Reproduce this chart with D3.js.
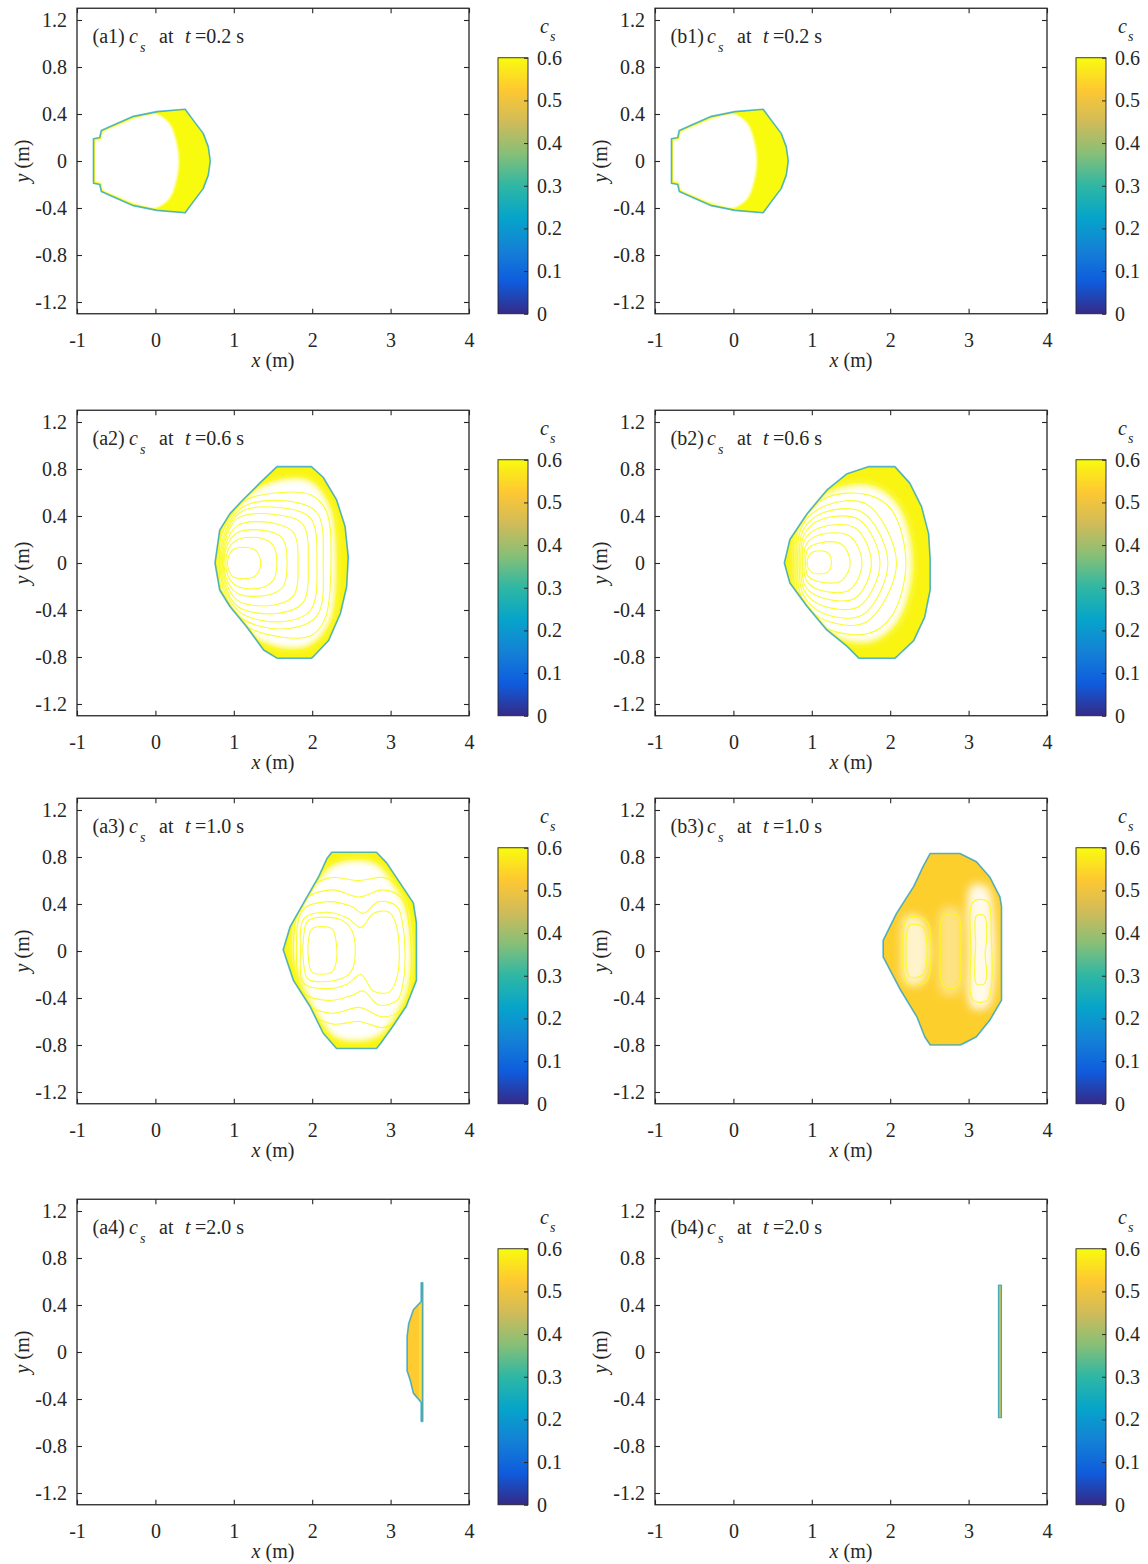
<!DOCTYPE html>
<html>
<head>
<meta charset="utf-8">
<script src="https://cdn.jsdelivr.net/npm/d3@7"></script>
<style>
  body { margin: 0; background: #fff; }
  svg text { font-family: "Liberation Serif", "Times New Roman", serif; fill: #262626; }
</style>
</head>
<body>
<div id="chart"></div>
<script>
// axis ticks and labels
const xTicks = [-1, 0, 1, 2, 3, 4];
const xTickLabels = ["-1", "0", "1", "2", "3", "4"];
const yTicks = [-1.2, -0.8, -0.4, 0, 0.4, 0.8, 1.2];
const yTickLabels = ["-1.2", "-0.8", "-0.4", "0", "0.4", "0.8", "1.2"];
const cbTicks = [0, 0.1, 0.2, 0.3, 0.4, 0.5, 0.6];
const cbTickLabels = ["0", "0.1", "0.2", "0.3", "0.4", "0.5", "0.6"];
const panelIds = ["a1", "b1", "a2", "b2", "a3", "b3", "a4", "b4"];
const panelTimes = ["0.2", "0.2", "0.6", "0.6", "1.0", "1.0", "2.0", "2.0"];

// parula colormap samples over c_s = 0 .. 0.6
const parulaStops = [0, 0.075, 0.15, 0.225, 0.3, 0.375, 0.45, 0.525, 0.6];
const parulaColors = ["#352a87", "#0f5cdd", "#1481d6", "#06a4ca", "#2eb7a4", "#87bf77", "#d1bb59", "#fec832", "#f9fb0e"];

// c_s inside the deposit edge band, per panel, and on the outer rim
const edgeLevel = [0.6, 0.6, 0.59, 0.59, 0.59, 0.535, 0.53, 0.42];
const rimLevel = 0.2;

// ---- deposit shapes, x/y in metres ----
const a1Outline = [[-0.79,0.19],[-0.71,0.2],[-0.69,0.26],[-0.49,0.32],[-0.28,0.38],[0.02,0.42],[0.38,0.44],[0.48,0.35],[0.61,0.235],[0.675,0.12],[0.7,0],
  [0.675,-0.12],[0.61,-0.235],[0.48,-0.35],[0.38,-0.44],[0.02,-0.42],[-0.28,-0.38],[-0.49,-0.32],[-0.69,-0.26],[-0.71,-0.2],[-0.79,-0.19]];
const a1Hole = [[-0.775,0.175],[-0.7,0.185],[-0.68,0.245],[-0.49,0.305],[-0.28,0.362],[0.0,0.402],[0.18,0.32],[0.27,0.16],[0.3,0],
  [0.27,-0.16],[0.18,-0.32],[0.0,-0.402],[-0.28,-0.362],[-0.49,-0.305],[-0.68,-0.245],[-0.7,-0.185],[-0.775,-0.175]];
const a1Arcs = [
  [[0.02,0.41],[0.22,0.32],[0.31,0.16],[0.34,0],[0.31,-0.16],[0.22,-0.32],[0.02,-0.41]],
  [[0.03,0.42],[0.25,0.33],[0.35,0.17],[0.38,0],[0.35,-0.17],[0.25,-0.33],[0.03,-0.42]],
  [[0.04,0.42],[0.28,0.34],[0.39,0.18],[0.42,0],[0.39,-0.18],[0.28,-0.34],[0.04,-0.42]],
  [[0.05,0.43],[0.31,0.35],[0.43,0.18],[0.46,0],[0.43,-0.18],[0.31,-0.35],[0.05,-0.43]]
];
// b1 looks the same as a1
const b1Outline = a1Outline, b1Hole = a1Hole, b1Arcs = a1Arcs;

const a2Outline = [[1.55,0.82],[1.99,0.82],[2.14,0.73],[2.31,0.54],[2.42,0.31],[2.46,0.05],[2.44,-0.2],[2.36,-0.43],[2.21,-0.66],[2.01,-0.8],[1.99,-0.81],
  [1.55,-0.81],[1.38,-0.74],[1.16,-0.54],[0.95,-0.37],[0.82,-0.23],[0.76,0],[0.82,0.28],[0.95,0.42],[1.12,0.54],[1.33,0.68]];
const a2Hole = [[0.84,0.25],[1.13,0.55],[1.55,0.7],[1.96,0.7],[2.22,0.48],[2.3,0],[2.22,-0.5],[1.96,-0.7],[1.55,-0.71],[1.13,-0.56],[0.84,-0.25],[0.81,0]];
const a2Rings = [
  [[1.0,0.12],[1.25,0.12],[1.33,0.05],[1.33,-0.05],[1.25,-0.12],[1.0,-0.12],[0.93,-0.05],[0.93,0.05]],
  [[0.92,0.1],[1.05,0.2],[1.35,0.21],[1.5,0.15],[1.55,0],[1.5,-0.15],[1.35,-0.21],[1.05,-0.2],[0.92,-0.1]],
  [[0.9,0.12],[1.05,0.26],[1.45,0.27],[1.63,0.2],[1.68,0],[1.63,-0.2],[1.45,-0.27],[1.05,-0.26],[0.9,-0.12]],
  [[0.89,0.14],[1.05,0.32],[1.5,0.34],[1.76,0.26],[1.82,0],[1.76,-0.28],[1.5,-0.36],[1.05,-0.32],[0.89,-0.14]],
  [[0.88,0.16],[1.05,0.38],[1.55,0.41],[1.88,0.33],[1.95,0],[1.88,-0.34],[1.55,-0.43],[1.05,-0.37],[0.88,-0.16]],
  [[0.87,0.18],[1.08,0.43],[1.6,0.47],[1.98,0.38],[2.06,0],[1.98,-0.4],[1.6,-0.5],[1.08,-0.42],[0.87,-0.18]],
  [[0.86,0.2],[1.1,0.47],[1.65,0.53],[2.06,0.43],[2.14,0],[2.06,-0.45],[1.65,-0.56],[1.1,-0.47],[0.86,-0.2]],
  [[0.84,0.23],[1.12,0.52],[1.6,0.6],[1.98,0.58],[2.18,0.44],[2.24,0],[2.16,-0.48],[1.98,-0.62],[1.6,-0.63],[1.12,-0.52],[0.84,-0.23],[0.82,0]],
  [[0.83,0.27],[1.13,0.57],[1.55,0.72],[1.97,0.72],[2.24,0.5],[2.33,0],[2.24,-0.52],[1.97,-0.72],[1.55,-0.73],[1.13,-0.58],[0.83,-0.27],[0.8,0]]
];

const b2Outline = [[1.72,0.82],[2.06,0.82],[2.25,0.68],[2.4,0.48],[2.49,0.25],[2.51,0.03],[2.51,-0.23],[2.44,-0.46],[2.3,-0.66],[2.08,-0.8],[2.06,-0.81],
  [1.6,-0.81],[1.45,-0.71],[1.19,-0.57],[0.94,-0.37],[0.72,-0.17],[0.65,0],[0.72,0.2],[0.94,0.42],[1.19,0.62],[1.45,0.76]];
const b2Hole = [[0.85,0.38],[1.21,0.6],[1.74,0.66],[2.1,0.49],[2.28,0],[2.1,-0.49],[1.74,-0.67],[1.21,-0.6],[0.85,-0.37],[0.79,0]];
const b2Rings = [
  [[1.0,0.09],[1.2,0.09],[1.25,0.0],[1.2,-0.08],[1.0,-0.08],[0.94,0.0]],
  [[0.95,0.12],[1.1,0.17],[1.38,0.16],[1.49,0.0],[1.38,-0.15],[1.1,-0.16],[0.95,-0.11],[0.92,0]],
  [[0.93,0.16],[1.1,0.24],[1.48,0.23],[1.64,0.0],[1.48,-0.23],[1.1,-0.23],[0.93,-0.15],[0.9,0]],
  [[0.91,0.2],[1.1,0.3],[1.55,0.3],[1.76,0],[1.55,-0.3],[1.1,-0.29],[0.91,-0.19],[0.88,0]],
  [[0.9,0.24],[1.12,0.37],[1.6,0.37],[1.87,0],[1.6,-0.37],[1.12,-0.36],[0.9,-0.23],[0.86,0]],
  [[0.89,0.28],[1.15,0.43],[1.65,0.43],[1.97,0],[1.65,-0.44],[1.15,-0.43],[0.89,-0.27],[0.84,0]],
  [[0.88,0.32],[1.18,0.49],[1.7,0.5],[2.08,0],[1.7,-0.5],[1.18,-0.49],[0.88,-0.31],[0.82,0]],
  [[0.86,0.36],[1.2,0.56],[1.72,0.58],[2.02,0.45],[2.2,0],[2.02,-0.45],[1.72,-0.6],[1.2,-0.56],[0.86,-0.35],[0.8,0]],
  [[0.84,0.4],[1.22,0.63],[1.75,0.68],[2.12,0.5],[2.32,0],[2.12,-0.5],[1.75,-0.7],[1.22,-0.63],[0.84,-0.39],[0.77,0]]
];

const a3Outline = [[2.25,0.84],[2.82,0.84],[2.95,0.75],[3.12,0.58],[3.29,0.41],[3.33,0.24],[3.33,-0.25],[3.2,-0.47],[3.03,-0.64],[2.87,-0.79],[2.82,-0.83],
  [2.31,-0.83],[2.14,-0.7],[1.97,-0.47],[1.76,-0.25],[1.63,0.01],[1.72,0.21],[1.89,0.41],[2.08,0.63],[2.19,0.79]];
const a3Hole = [[1.85,0.4],[2.1,0.62],[2.3,0.74],[2.78,0.75],[3.05,0.55],[3.22,0.3],[3.24,-0.25],[3.1,-0.5],[2.82,-0.73],[2.32,-0.74],[2.08,-0.55],[1.86,-0.25],[1.75,0.02]];
const a3Rings = [
  [[2.0,0.19],[2.25,0.19],[2.31,0.05],[2.31,-0.08],[2.25,-0.18],[2.0,-0.18],[1.95,-0.05],[1.95,0.08]],
  [[1.95,0.26],[2.35,0.27],[2.5,0.18],[2.55,0],[2.5,-0.17],[2.35,-0.24],[1.95,-0.24],[1.89,-0.1],[1.89,0.12]],
  [[1.9,0.28],[2.2,0.33],[2.45,0.28],[2.62,0.2],[2.78,0.32],[2.98,0.33],[3.08,0.2],[3.09,-0.2],[2.98,-0.35],[2.78,-0.34],[2.62,-0.2],[2.45,-0.28],[2.2,-0.32],[1.9,-0.28],[1.85,0]],
  [[1.88,0.35],[2.2,0.42],[2.5,0.38],[2.65,0.32],[2.85,0.42],[3.08,0.38],[3.16,0.2],[3.17,-0.22],[3.08,-0.42],[2.85,-0.46],[2.65,-0.34],[2.5,-0.38],[2.2,-0.42],[1.88,-0.35],[1.8,0]],
  [[1.88,0.42],[2.25,0.52],[2.6,0.46],[2.9,0.52],[3.14,0.45],[3.24,0.2],[3.25,-0.25],[3.14,-0.5],[2.9,-0.56],[2.6,-0.48],[2.25,-0.53],[1.88,-0.42],[1.76,0]],
  [[1.84,0.45],[2.2,0.62],[2.6,0.6],[2.95,0.62],[3.2,0.45],[3.28,0.2],[3.29,-0.25],[3.18,-0.52],[2.92,-0.65],[2.6,-0.6],[2.25,-0.62],[1.88,-0.47],[1.73,0]],
  [[1.8,0.4],[2.1,0.66],[2.3,0.76],[2.8,0.77],[3.1,0.56],[3.28,0.3],[3.3,-0.25],[3.15,-0.52],[2.85,-0.76],[2.32,-0.77],[2.06,-0.58],[1.82,-0.3],[1.7,0]]
];

const b3Outline = [[2.51,0.83],[2.89,0.83],[3.1,0.76],[3.27,0.63],[3.4,0.46],[3.42,0.38],[3.42,-0.42],[3.27,-0.59],[3.1,-0.73],[2.93,-0.79],[2.89,-0.8],
  [2.51,-0.8],[2.44,-0.73],[2.34,-0.56],[2.13,-0.33],[1.91,-0.05],[1.91,0.09],[2.08,0.32],[2.3,0.55],[2.42,0.72]];
const b3HoleLeft = [[2.2,0.3],[2.4,0.28],[2.5,0.1],[2.5,-0.1],[2.4,-0.28],[2.2,-0.28],[2.15,0]];
const b3HoleMid = [[2.66,0.36],[2.87,0.36],[2.92,0],[2.87,-0.36],[2.66,-0.36],[2.62,0]];
const b3HoleRight = [[3.04,0.56],[3.24,0.54],[3.32,0.3],[3.32,-0.3],[3.24,-0.48],[3.04,-0.48],[3.0,0]];
const b3Rings = [
  [[3.1,0.3],[3.2,0.3],[3.23,0.1],[3.21,-0.02],[3.23,-0.2],[3.2,-0.28],[3.1,-0.28],[3.08,-0.1],[3.09,0.05]],
  [[3.06,0.42],[3.24,0.42],[3.29,0.1],[3.29,-0.3],[3.24,-0.42],[3.06,-0.42],[3.03,0]],
  [[2.25,0.22],[2.42,0.2],[2.47,0],[2.42,-0.2],[2.25,-0.22],[2.2,0]],
  [[2.22,0.28],[2.46,0.26],[2.52,0],[2.46,-0.26],[2.22,-0.28],[2.16,0]],
  [[2.68,0.3],[2.86,0.3],[2.9,0],[2.86,-0.3],[2.68,-0.3],[2.64,0]]
];

const a4Outline = [[3.39,0.59],[3.41,0.59],[3.41,-0.59],[3.39,-0.59],[3.39,-0.43],[3.29,-0.35],[3.25,-0.24],[3.21,-0.16],[3.21,0.13],[3.23,0.24],[3.29,0.36],[3.39,0.43]];
const a4Arcs = [[[3.375,0.4],[3.375,0],[3.375,-0.4]]];

const b4Outline = [[3.38,0.57],[3.42,0.57],[3.42,-0.56],[3.38,-0.56]];

// ---- layout ----
const colLeft = [77, 655];
const rowTop = [8.25, 410.25, 798.25, 1199.25];
const axW = 392, axH = 305.5;
const fs = 20;

const parula = d3.scaleLinear().domain(parulaStops).range(parulaColors).interpolate(d3.interpolateRgb);

const panels = [
  { outline: a1Outline, holes: [a1Hole], holeOpacity: [1], blur: 1.2, rings: [], arcs: a1Arcs },
  { outline: b1Outline, holes: [b1Hole], holeOpacity: [1], blur: 1.2, rings: [], arcs: b1Arcs },
  { outline: a2Outline, holes: [a2Hole], holeOpacity: [1], blur: 3, rings: a2Rings, arcs: [] },
  { outline: b2Outline, holes: [b2Hole], holeOpacity: [1], blur: 3.5, rings: b2Rings, arcs: [] },
  { outline: a3Outline, holes: [a3Hole], holeOpacity: [1], blur: 3, rings: a3Rings, arcs: [] },
  { outline: b3Outline, holes: [b3HoleLeft, b3HoleMid, b3HoleRight], holeOpacity: [0.75, 0.4, 0.9], blur: 4, rings: b3Rings, arcs: [] },
  { outline: a4Outline, holes: [], holeOpacity: [], blur: 1, rings: [], arcs: a4Arcs },
  { outline: b4Outline, holes: [], holeOpacity: [], blur: 1, rings: [], arcs: [] }
];

const svg = d3.select("#chart").append("svg")
  .attr("width", 1148).attr("height", 1564)
  .style("background", "#fff");
const defs = svg.append("defs");

// colorbar gradient
const grad = defs.append("linearGradient").attr("id", "parula")
  .attr("x1", 0).attr("y1", 1).attr("x2", 0).attr("y2", 0);
parulaStops.forEach((s, i) => grad.append("stop").attr("offset", s / 0.6).attr("stop-color", parulaColors[i]));

panels.forEach((p, i) => {
  const col = i % 2, row = Math.floor(i / 2);
  const left = colLeft[col], top = rowTop[row];
  const x = d3.scaleLinear().domain([-1, 4]).range([left, left + axW]);
  const y = d3.scaleLinear().domain([-1.3, 1.3]).range([top + axH, top]);
  const g = svg.append("g");

  const outlinePath = d3.line().x(d => x(d[0])).y(d => y(d[1])).curve(d3.curveLinearClosed);
  const smoothClosed = d3.line().x(d => x(d[0])).y(d => y(d[1])).curve(d3.curveCatmullRomClosed.alpha(0.5));
  const smoothOpen = d3.line().x(d => x(d[0])).y(d => y(d[1])).curve(d3.curveCatmullRom.alpha(0.5));

  defs.append("filter").attr("id", "blur" + i)
    .attr("x", "-30%").attr("y", "-30%").attr("width", "160%").attr("height", "160%")
    .append("feGaussianBlur").attr("stdDeviation", p.blur);
  defs.append("clipPath").attr("id", "clip" + i)
    .append("path").attr("d", outlinePath(p.outline));

  const edgeColor = parula(edgeLevel[i]);
  const shape = g.append("g").attr("clip-path", `url(#clip${i})`);

  // edge band fill
  shape.append("path").attr("d", outlinePath(p.outline)).attr("fill", edgeColor);
  // pale interior
  p.holes.forEach((h, k) => {
    shape.append("path").attr("d", smoothClosed(h))
      .attr("fill", "#fff").attr("fill-opacity", p.holeOpacity[k])
      .attr("filter", `url(#blur${i})`);
  });
  // contour lines
  shape.selectAll(".ring").data(p.rings).join("path")
    .attr("d", smoothClosed).attr("fill", "none")
    .attr("stroke", parula(0.6)).attr("stroke-opacity", 0.85).attr("stroke-width", 1.1);
  shape.selectAll(".arc").data(p.arcs).join("path")
    .attr("d", smoothOpen).attr("fill", "none")
    .attr("stroke", i === 6 ? "#f8e64a" : parula(0.6)).attr("stroke-opacity", 0.9)
    .attr("stroke-width", i === 6 ? 1.6 : 1.1);
  // inner edge line
  shape.append("path").attr("d", outlinePath(p.outline))
    .attr("fill", "none").attr("stroke", edgeColor).attr("stroke-width", 3);
  // rim
  g.append("path").attr("d", outlinePath(p.outline))
    .attr("fill", "none").attr("stroke", parula(rimLevel)).attr("stroke-opacity", 0.7)
    .attr("stroke-width", i === 7 ? 1.1 : 1.6).attr("stroke-linejoin", "round");

  // axes, ticks inward on all four sides
  const fmtX = (d) => xTickLabels[xTicks.indexOf(d)];
  const fmtY = (d) => yTickLabels[yTicks.indexOf(d)];
  const bx = g.append("g").attr("transform", `translate(0,${top + axH})`)
    .call(d3.axisBottom(x).tickValues(xTicks).tickSizeInner(-5).tickSizeOuter(0).tickFormat(fmtX));
  bx.selectAll("text").attr("y", 33).attr("dy", 0);
  g.append("g").attr("transform", `translate(0,${top})`)
    .call(d3.axisTop(x).tickValues(xTicks).tickSizeInner(-5).tickSizeOuter(0).tickFormat(() => ""));
  g.append("g").attr("transform", `translate(${left},0)`)
    .call(d3.axisLeft(y).tickValues(yTicks).tickSizeInner(-5).tickSizeOuter(0).tickPadding(10).tickFormat(fmtY));
  g.append("g").attr("transform", `translate(${left + axW},0)`)
    .call(d3.axisRight(y).tickValues(yTicks).tickSizeInner(-5).tickSizeOuter(0).tickFormat(() => ""));
  g.selectAll(".domain").remove();
  g.selectAll(".tick line").attr("stroke", "#262626").attr("stroke-width", 1.1);
  g.selectAll(".tick text").attr("font-size", fs).attr("font-family", null).attr("fill", "#262626");
  g.append("rect").attr("x", left).attr("y", top).attr("width", axW).attr("height", axH)
    .attr("fill", "none").attr("stroke", "#262626").attr("stroke-width", 1.3);

  // axis titles
  const xl = g.append("text").attr("x", left + axW / 2).attr("y", top + axH + 53)
    .attr("text-anchor", "middle").attr("font-size", fs);
  xl.append("tspan").attr("font-style", "italic").text("x");
  xl.append("tspan").text(" (m)");
  const yl = g.append("text").attr("transform", `translate(${left - 48},${y(0)}) rotate(-90)`)
    .attr("text-anchor", "middle").attr("font-size", fs);
  yl.append("tspan").attr("font-style", "italic").text("y");
  yl.append("tspan").text(" (m)");

  // panel title
  const ty = top + 35;
  const t = g.append("text").attr("y", ty).attr("font-size", fs);
  t.append("tspan").attr("x", left + 15.5).text(`(${panelIds[i]})`);
  t.append("tspan").attr("x", left + 52).attr("font-style", "italic").text("c");
  t.append("tspan").attr("x", left + 63).attr("y", ty + 9).attr("font-style", "italic").attr("font-size", 14).text("s");
  t.append("tspan").attr("x", left + 82).attr("y", ty).text("at");
  t.append("tspan").attr("x", left + 108).attr("font-style", "italic").text("t");
  t.append("tspan").attr("x", left + 118).text(`=${panelTimes[i]} s`);

  // colorbar
  const cbLeft = left + 421, cbW = 30, cbTop = top + 49.5, cbBottom = top + axH;
  const cy = d3.scaleLinear().domain([0, 0.6]).range([cbBottom, cbTop]);
  g.append("rect").attr("x", cbLeft).attr("y", cbTop).attr("width", cbW).attr("height", cbBottom - cbTop)
    .attr("fill", "url(#parula)").attr("stroke", "#262626").attr("stroke-width", 0.9);
  const cb = g.append("g").attr("transform", `translate(${cbLeft + cbW},0)`)
    .call(d3.axisRight(cy).tickValues(cbTicks).tickSizeInner(-4).tickSizeOuter(0).tickPadding(9)
      .tickFormat(d => cbTickLabels[cbTicks.indexOf(d)]));
  cb.select(".domain").remove();
  cb.selectAll(".tick line").attr("stroke", "#262626");
  cb.selectAll(".tick text").attr("font-size", fs).attr("font-family", null).attr("fill", "#262626");
  const cl = g.append("text").attr("y", top + 25).attr("font-size", fs);
  cl.append("tspan").attr("x", cbLeft + 42).attr("font-style", "italic").text("c");
  cl.append("tspan").attr("x", cbLeft + 52).attr("y", top + 33).attr("font-style", "italic").attr("font-size", 14).text("s");
});
</script>
</body>
</html>
